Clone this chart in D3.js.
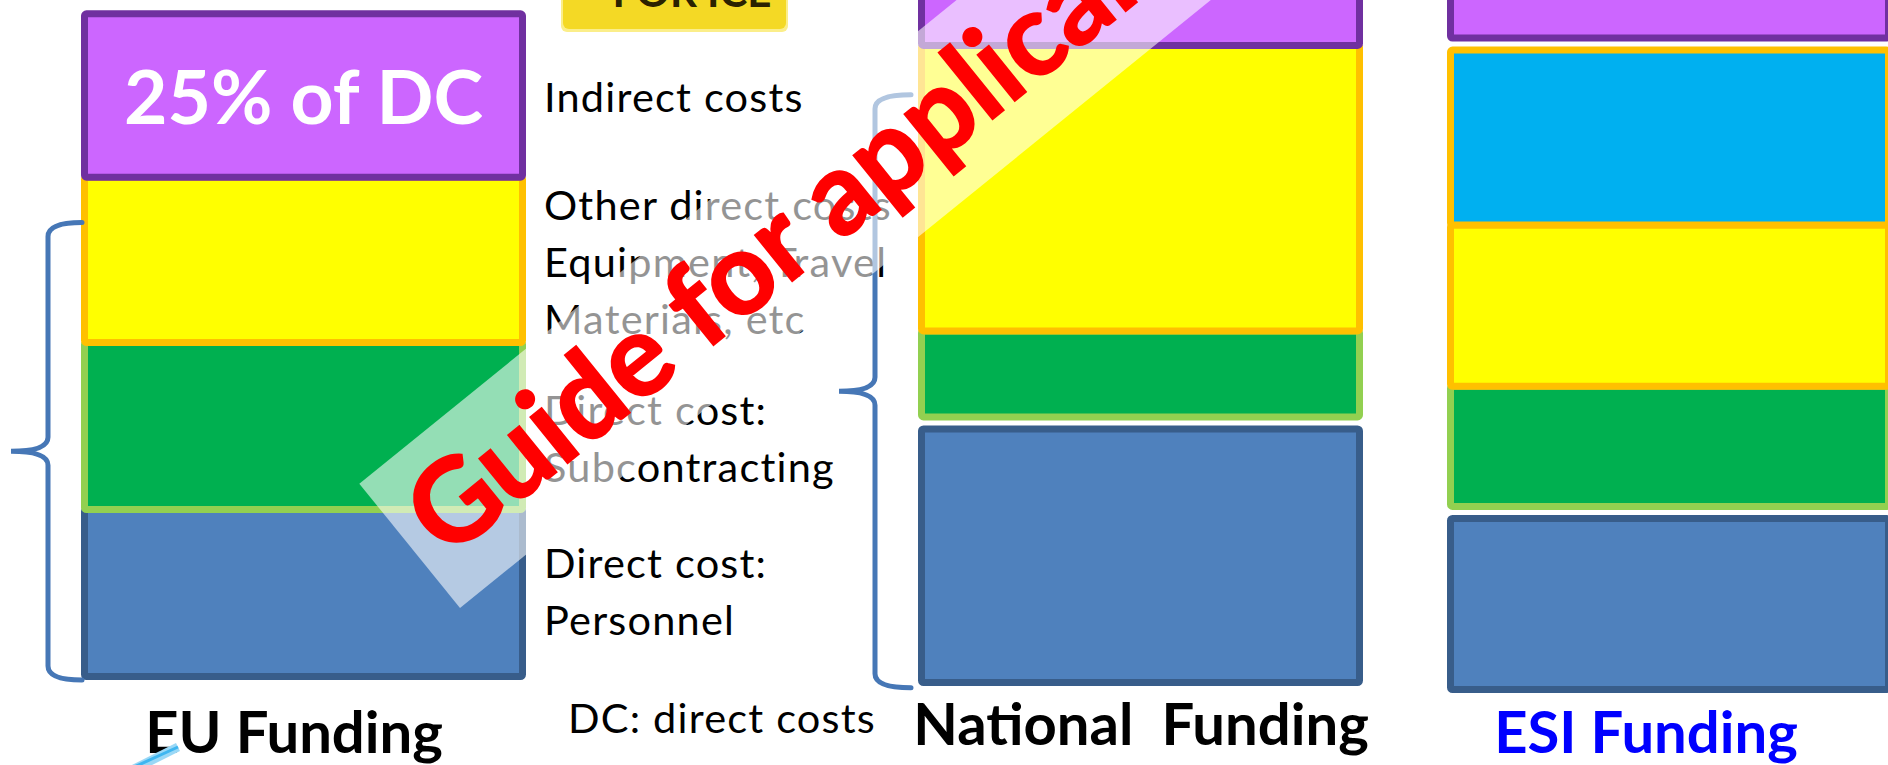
<!DOCTYPE html>
<html>
<head>
<meta charset="utf-8">
<script src="https://cdn.jsdelivr.net/npm/d3@7"></script>
<style>
  html, body { margin: 0; padding: 0; background: #fff; overflow: hidden; }
  svg { display: block; font-family: Lato, "Open Sans", sans-serif; }
</style>
</head>
<body>
<svg id="chart" width="1888" height="765"></svg>
<script>
//** DATA *****************************************
const fundings = ["EU Funding", "National  Funding", "ESI Funding"];
const costTypes = ["Personnel", "Subcontracting", "Other direct costs", "Other direct costs (ESI)", "Indirect costs"];

// segment sizes, bottom to top, in "EU segment" units
const euValues       = [1.0,   1.0,   0.99,  0,    1.02];
const nationalValues = [1.56,  0.515, 1.71,  0,    1.2];
const esiValues      = [1.066, 0.72,  0.965, 1.09, 1.2];

// brace spans (units from the bar bottom)
const euBrace       = [0, 2.74];
const nationalBrace = [-0.01, 3.54];

const sideLabels = [
    ["Direct cost:", "Personnel"],
    ["Direct cost:", "Subcontracting"],
    ["Other direct costs", "Equipment, Travel", "Materials, etc"],
    [],
    ["Indirect costs"]
];
const indirectNote = "25% of DC";
const footNote = "DC: direct costs";
const watermarkText = "Guide for applicants";
const badgeText = "FOR ICE";

//** LAYOUT / STYLE *****************************************
const width = 1888, height = 765;
const BAR_W = 445, STROKE = 7;

const fills   = ["#4F81BD", "#00B050", "#FFFF00", "#00B0F0", "#CC66FF"];
const borders = ["#385D8A", "#92D050", "#FFC000", "#FFC000", "#7030A0"];

const barLeft = d3.scaleOrdinal().domain(fundings).range([81, 918, 1447]);
const barBase = d3.scaleOrdinal().domain(fundings).range([680, 686, 693]);
const labelX  = d3.scaleOrdinal().domain(fundings).range([294, 1141, 1646]);
const labelY  = d3.scaleOrdinal().domain(fundings).range([753, 745, 753]);
const labelColour = d3.scaleOrdinal().domain(fundings).range(["#000", "#000", "#0000FF"]);
// gap (px) left under each segment type
const gaps = {
    "EU Funding":        [0, 0, 0, 0, 0],
    "National  Funding": [0, 5, 0, 0, 0],
    "ESI Funding":       [0, 5, 0, 0, 5]
};
const sideDy = [9.5, 24, 13.6, 0, 16.5];
const LINE_H = 57;
const SIDE_FONT = 41.5, SIDE_SPACING = 1.2;

const yUnit = d3.scaleLinear().domain([0, 1]).range([0, 167]);

let svg = d3.select("#chart");

//** STACKS *****************************************
const allValues = [euValues, nationalValues, esiValues];
let stacks = fundings.map((f, b) => {
    let y = barBase(f);
    let segs = [];
    allValues[b].forEach((v, i) => {
        if (v === 0) return;
        y -= gaps[f][i];
        let top = y - yUnit(v);
        segs.push({funding: f, type: i, top: top, bottom: y});
        y = top;
    });
    // lower block's top border hides under the block drawn above it
    segs.forEach((s, k) => {
        let next = segs[k + 1];
        s.adjAbove = next ? gaps[f][next.type] === 0 : false;
    });
    return segs;
});

let bars = svg.append("g").attr("class", "bars");

stacks.forEach(segs => {
    bars.append("g")
        .selectAll("rect")
        .data(segs)
        .enter()
        .append("rect")
        .attr("x", d => barLeft(d.funding) + STROKE / 2)
        .attr("y", d => d.top - (d.adjAbove ? STROKE : 0) + STROKE / 2)
        .attr("width", BAR_W - STROKE)
        .attr("height", d => d.bottom - d.top + (d.adjAbove ? STROKE : 0) - STROKE)
        .attr("rx", 2)
        .style("fill", d => fills[d.type])
        .style("stroke", d => borders[d.type])
        .style("stroke-width", STROKE);
});

//** TEXT *****************************************
let euSegs = stacks[0];

// 25% of DC inside purple block
let indirect = euSegs.find(s => s.type === 4);
svg.append("text")
    .attr("x", barLeft(fundings[0]) + BAR_W / 2)
    .attr("y", (indirect.top + indirect.bottom) / 2 + 28)
    .attr("text-anchor", "middle")
    .attr("font-size", 75)
    .attr("font-weight", 700)
    .attr("fill", "#fff")
    .text(indirectNote);

// labels right of the EU bar
let side = svg.append("g")
    .attr("class", "side_labels")
    .attr("font-size", SIDE_FONT)
    .attr("letter-spacing", SIDE_SPACING)
    .attr("fill", "#000");

euSegs.forEach(s => {
    let lines = sideLabels[s.type];
    let mid = (s.top + s.bottom) / 2;
    let first = mid - (lines.length - 1) * LINE_H / 2 + sideDy[s.type];
    lines.forEach((t, j) => {
        side.append("text")
            .attr("x", barLeft(fundings[0]) + BAR_W + 18)
            .attr("y", first + j * LINE_H)
            .text(t);
    });
});

side.append("text")
    .attr("x", 568)
    .attr("y", 733)
    .text(footNote);

// funding titles
svg.append("g")
    .selectAll("text")
    .data(fundings)
    .enter()
    .append("text")
    .attr("x", d => labelX(d))
    .attr("y", d => labelY(d))
    .attr("text-anchor", "middle")
    .attr("font-size", 58)
    .attr("font-weight", 700)
    .attr("fill", d => labelColour(d))
    .style("white-space", "pre")
    .text(d => d);

//** BRACES *****************************************
function bracePath(xe, xl, xt, yt, yb)
{
    const ym = (yt + yb) / 2, r = 14;
    let p = d3.path();
    p.moveTo(xe, yt);
    p.quadraticCurveTo(xl, yt, xl, yt + r);
    p.lineTo(xl, ym - r);
    p.quadraticCurveTo(xl, ym, xt, ym);
    p.quadraticCurveTo(xl, ym, xl, ym + r);
    p.lineTo(xl, yb - r);
    p.quadraticCurveTo(xl, yb, xe, yb);
    return p.toString();
}

let braceData = [
    {funding: fundings[0], span: euBrace, dx: [1, -33, -70]},
    {funding: fundings[1], span: nationalBrace, dx: [-7, -43, -79]}
];
svg.append("g")
    .selectAll("path")
    .data(braceData)
    .enter()
    .append("path")
    .attr("d", d => {
        let x0 = barLeft(d.funding), base = barBase(d.funding);
        return bracePath(x0 + d.dx[0], x0 + d.dx[1], x0 + d.dx[2],
            base - yUnit(d.span[1]), base - yUnit(d.span[0]));
    })
    .style("fill", "none")
    .style("stroke", "#4677B6")
    .style("stroke-width", 5)
    .style("stroke-linecap", "round");

//** DECORATIONS *****************************************
// clipped yellow badge at the top
svg.append("rect")
    .attr("x", 561).attr("y", -25)
    .attr("width", 227).attr("height", 57)
    .attr("rx", 6)
    .style("fill", "#FBEE8A");
svg.append("rect")
    .attr("x", 563).attr("y", -25)
    .attr("width", 223).attr("height", 54)
    .attr("rx", 6)
    .style("fill", "#F4D925");
svg.append("text")
    .attr("x", 692).attr("y", 7)
    .attr("text-anchor", "middle")
    .attr("font-size", 42)
    .attr("font-weight", 700)
    .attr("fill", "#2b2200")
    .text(badgeText);

// bit of a light blue arrow, bottom left
svg.append("path")
    .attr("d", "M128,772 L178,747")
    .style("stroke", "#9AD8F6")
    .style("stroke-width", 9);
svg.append("path")
    .attr("d", "M132,768 L178,747")
    .style("stroke", "#3FB6F0")
    .style("stroke-width", 3);

//** WATERMARK *****************************************
let wm = svg.append("g")
    .attr("transform", "translate(460,608) rotate(-39)");

wm.append("rect")
    .attr("x", 0).attr("y", -160)
    .attr("width", 2200).attr("height", 160)
    .style("fill", "#fff")
    .style("opacity", 0.58);

wm.append("text")
    .attr("x", 20).attr("y", -45)
    .attr("font-size", 115)
    .attr("font-weight", 700)
    .attr("fill", "#FF0000")
    .style("stroke", "#FF0000")
    .style("stroke-width", 2)
    .text(watermarkText);
</script>
</body>
</html>
